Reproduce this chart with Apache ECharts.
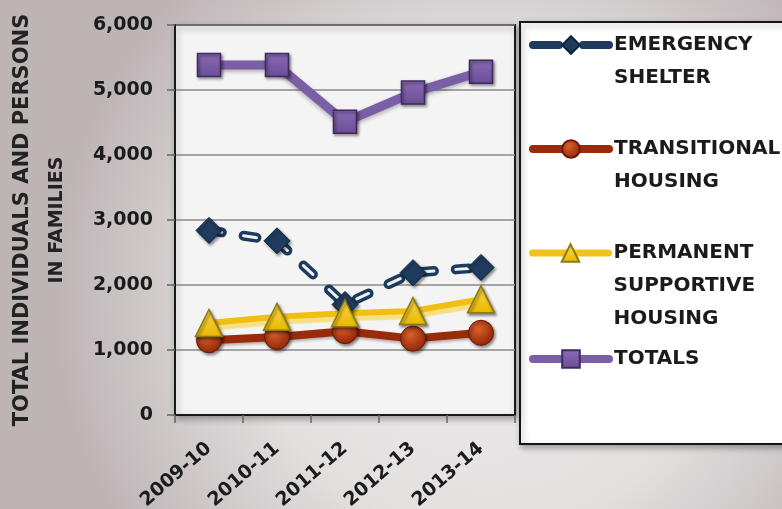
<!DOCTYPE html>
<html>
<head>
<meta charset="utf-8">
<script src="https://cdn.jsdelivr.net/npm/echarts@6/dist/echarts.min.js"></script>
<style>
  html, body { margin: 0; padding: 0; }
  #chart { width: 782px; height: 509px; }
</style>
</head>
<body>
<div id="chart"></div>
<script>
// Homeless counts by program type, fiscal years 2009-10 to 2013-14
const categories = ['2009-10', '2010-11', '2011-12', '2012-13', '2013-14'];
const emergencyShelter = [2840, 2680, 1700, 2190, 2270];
const transitionalHousing = [1150, 1200, 1290, 1175, 1265];
const permanentSupportive = [1415, 1510, 1565, 1600, 1780];
const totals = [5385, 5385, 4510, 4960, 5280];

const yMin = 0;
const yMax = 6000;
const yStep = 1000;

const seriesNames = {
  es: 'EMERGENCY\nSHELTER',
  th: 'TRANSITIONAL\nHOUSING',
  psh: 'PERMANENT\nSUPPORTIVE\nHOUSING',
  tot: 'TOTALS'
};

const FONT = '"DejaVu Sans", sans-serif';
const TEXT = '#1b1b1b';
const LH = 33;

const markerShadow = {
  shadowBlur: 3,
  shadowColor: 'rgba(0,0,0,0.45)',
  shadowOffsetX: 1.5,
  shadowOffsetY: 2
};

// One legend block per series; blank lines above the name keep the icon
// level with the first text line.
function legendBlock(name, lines, iconY, lineStyle) {
  return {
    data: [{ name: name, lineStyle: lineStyle }],
    formatter: n => '\u00a0\n'.repeat(lines - 1) + n,
    left: 529,
    top: iconY - (2 * lines - 1) * LH / 2,
    padding: 0,
    itemWidth: 76,
    itemHeight: 22,
    itemGap: 0,
    selectedMode: false,
    orient: 'vertical',
    textStyle: {
      fontFamily: FONT, fontWeight: 'bold', fontSize: 20, color: TEXT, lineHeight: LH
    }
  };
}

const chart = echarts.init(document.getElementById('chart'), null, { renderer: 'canvas' });

chart.setOption({
  animation: false,
  backgroundColor: {
    type: 'radial', x: 0.62, y: 0.58, r: 0.85,
    colorStops: [
      { offset: 0, color: '#efeeee' },
      { offset: 0.55, color: '#e2dfdf' },
      { offset: 1, color: '#bdb4b6' }
    ]
  },
  graphic: [{
    type: 'rect',
    z: -1,
    shape: { x: 520, y: 22, width: 280, height: 422 },
    style: {
      fill: '#ffffff', stroke: '#151515', lineWidth: 2,
      shadowBlur: 6, shadowColor: 'rgba(0,0,0,0.3)', shadowOffsetX: 2, shadowOffsetY: 3
    }
  }],
  grid: {
    left: 175, top: 25, width: 340, height: 390,
    outerBoundsMode: 'none',
    containLabel: false,
    show: true,
    backgroundColor: '#f4f4f4',
    borderColor: '#1a1a1a',
    borderWidth: 2,
    shadowBlur: 6, shadowColor: 'rgba(0,0,0,0.3)', shadowOffsetX: 2, shadowOffsetY: 3
  },
  legend: [
    legendBlock(seriesNames.es, 2, 45,
      { color: '#1e3a5f', width: 8, type: [26, 24], cap: 'round' }),
    legendBlock(seriesNames.th, 2, 149,
      { color: '#9b2a0b', width: 8, type: 'solid', cap: 'round' }),
    legendBlock(seriesNames.psh, 3, 253,
      { color: '#f1c21a', width: 7, type: 'solid', cap: 'round' }),
    legendBlock(seriesNames.tot, 1, 359,
      { color: '#7a5ea6', width: 8, type: 'solid', cap: 'round' })
  ],
  xAxis: {
    type: 'category',
    data: categories,
    boundaryGap: true,
    axisLine: { show: true, lineStyle: { color: '#1a1a1a', width: 2 } },
    axisTick: { show: true, length: 8, lineStyle: { color: '#666', width: 1.5 } },
    axisLabel: {
      rotate: 41, margin: 31, interval: 0,
      fontFamily: FONT, fontWeight: 'bold', fontSize: 19, color: TEXT
    }
  },
  yAxis: {
    type: 'value',
    min: yMin, max: yMax, interval: yStep,
    name: '{a|TOTAL INDIVIDUALS AND PERSONS}\n{b|IN FAMILIES}',
    nameLocation: 'middle',
    nameGap: 101,
    nameTextStyle: {
      fontFamily: FONT, fontWeight: 'bold', color: '#222', lineHeight: 34,
      rich: {
        a: { fontFamily: FONT, fontWeight: 'bold', fontSize: 21, color: '#222', lineHeight: 34 },
        b: { fontFamily: FONT, fontWeight: 'bold', fontSize: 19, color: '#222', lineHeight: 34 }
      }
    },
    axisLine: { show: true, lineStyle: { color: '#1a1a1a', width: 2 } },
    axisTick: { show: true, length: 8, lineStyle: { color: '#666', width: 1.5 } },
    axisLabel: {
      margin: 22,
      fontFamily: FONT, fontWeight: 'bold', fontSize: 19, color: TEXT,
      formatter: v => v.toLocaleString('en-US')
    },
    splitLine: { show: true, lineStyle: { color: '#8a8a8a', width: 1.5 } }
  },
  series: [
    // dark outer stroke of the emergency shelter dashes
    {
      type: 'line',
      data: emergencyShelter,
      showSymbol: false,
      silent: true,
      lineStyle: { color: '#1e3a5f', width: 10, type: [13, 22], cap: 'round', join: 'round' }
    },
    // light core of the dashes, with the diamond markers
    {
      name: seriesNames.es,
      type: 'line',
      data: emergencyShelter,
      symbol: 'diamond',
      symbolSize: 26,
      lineStyle: { color: '#eef2f6', width: 3, type: [13, 22], cap: 'round', join: 'round' },
      itemStyle: Object.assign({ color: '#1f3b5f', borderColor: '#0f2238', borderWidth: 1 }, markerShadow)
    },
    {
      name: seriesNames.th,
      type: 'line',
      data: transitionalHousing,
      symbol: 'circle',
      symbolSize: 25,
      lineStyle: {
        color: '#9b2a0b', width: 8, cap: 'round', join: 'round',
        shadowBlur: 3, shadowColor: 'rgba(0,0,0,0.3)', shadowOffsetY: 2
      },
      itemStyle: Object.assign({
        color: {
          type: 'radial', x: 0.4, y: 0.35, r: 0.7,
          colorStops: [
            { offset: 0, color: '#d9602a' },
            { offset: 1, color: '#8e2306' }
          ]
        },
        borderColor: '#6a1904', borderWidth: 1
      }, markerShadow)
    },
    {
      name: seriesNames.psh,
      type: 'line',
      data: permanentSupportive,
      symbol: 'triangle',
      symbolSize: [27, 27],
      lineStyle: {
        color: '#f1bf12', width: 6, cap: 'round', join: 'round',
        shadowBlur: 1, shadowColor: 'rgba(246,222,120,0.9)', shadowOffsetY: 5
      },
      itemStyle: Object.assign({
        color: {
          type: 'linear', x: 0, y: 0, x2: 0, y2: 1,
          colorStops: [
            { offset: 0, color: '#f9d84a' },
            { offset: 1, color: '#eab800' }
          ]
        },
        borderColor: '#8c7a12', borderWidth: 1.5
      }, markerShadow)
    },
    {
      name: seriesNames.tot,
      type: 'line',
      data: totals,
      symbol: 'rect',
      symbolSize: 23,
      lineStyle: {
        color: '#7a5ea6', width: 9, cap: 'round', join: 'round',
        shadowBlur: 4, shadowColor: 'rgba(0,0,0,0.3)', shadowOffsetY: 2
      },
      itemStyle: Object.assign({
        color: {
          type: 'linear', x: 0, y: 0, x2: 0, y2: 1,
          colorStops: [
            { offset: 0, color: '#8a6cb6' },
            { offset: 1, color: '#6a4d96' }
          ]
        },
        borderColor: '#3f2a60', borderWidth: 1.5
      }, markerShadow)
    }
  ]
});
</script>
</body>
</html>
